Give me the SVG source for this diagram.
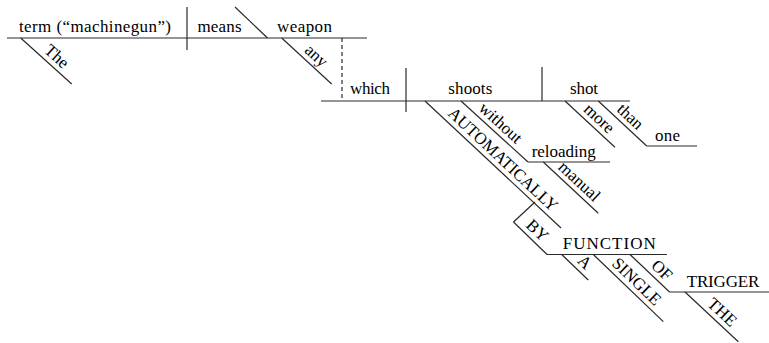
<svg xmlns="http://www.w3.org/2000/svg" width="769" height="343" viewBox="0 0 769 343">
<style>
  .ln{stroke:#2a2a2a;stroke-width:1.2;fill:none}
  .dash{stroke:#2a2a2a;stroke-width:1.2;fill:none;stroke-dasharray:4 3}
</style>
<rect width="769" height="343" fill="#ffffff"/>
<g id="connectors">
  <line class="ln" x1="7" y1="38" x2="367" y2="38"/>
  <line class="ln" x1="187" y1="7" x2="187" y2="50"/>
  <line class="ln" x1="235" y1="7" x2="267.5" y2="38"/>
  <line class="dash" x1="342" y1="38" x2="342" y2="101"/>
  <line class="ln" x1="321" y1="101" x2="630" y2="101"/>
  <line class="ln" x1="406" y1="68" x2="406" y2="112"/>
  <line class="ln" x1="542" y1="67" x2="542" y2="101"/>
  <line class="ln" x1="528" y1="162" x2="610" y2="162"/>
  <line class="ln" x1="646.7" y1="146" x2="697" y2="146"/>
  <line class="ln" x1="535" y1="202" x2="513.5" y2="222"/>
  <line class="ln" x1="547" y1="254.5" x2="667" y2="254.5"/>
  <line class="ln" x1="669.5" y1="292" x2="769" y2="292"/>
</g>
<g id="term"><text x="19" y="32" font-family="serif" font-size="17" textLength="152" lengthAdjust="spacing">term (“machinegun”)</text></g>
<g id="means"><text x="197.5" y="32" font-family="serif" font-size="17" textLength="44" lengthAdjust="spacing">means</text></g>
<g id="weapon"><text x="277" y="32" font-family="serif" font-size="17" textLength="55" lengthAdjust="spacing">weapon</text></g>
<g id="which"><text x="350" y="94" font-family="serif" font-size="17" textLength="40" lengthAdjust="spacing">which</text></g>
<g id="shoots"><text x="448.3" y="94" font-family="serif" font-size="17" textLength="44" lengthAdjust="spacing">shoots</text></g>
<g id="shot"><text x="570" y="94" font-family="serif" font-size="17" textLength="28" lengthAdjust="spacing">shot</text></g>
<g id="reloading"><text x="531.7" y="156.5" font-family="serif" font-size="17" textLength="64" lengthAdjust="spacing">reloading</text></g>
<g id="one"><text x="655" y="141" font-family="serif" font-size="17" textLength="25" lengthAdjust="spacing">one</text></g>
<g id="function"><text x="562.7" y="248.5" font-family="serif" font-size="17" textLength="93" lengthAdjust="spacing">FUNCTION</text></g>
<g id="trigger"><text x="686.7" y="286.5" font-family="serif" font-size="17" textLength="72.6" lengthAdjust="spacing">TRIGGER</text></g>
<g id="the1" transform="translate(20.7,38) rotate(42.05)"><line class="ln" x1="0" y1="0" x2="68.7" y2="0"/><text x="39" y="-5" text-anchor="middle" font-family="serif" font-size="17">The</text></g>
<g id="any" transform="translate(281.7,38) rotate(42.6)"><line class="ln" x1="0" y1="0" x2="67.9" y2="0"/><text x="37.6" y="-5" text-anchor="middle" font-family="serif" font-size="17">any</text></g>
<g id="automatically" transform="translate(425,101) rotate(43.04)"><line class="ln" x1="0" y1="0" x2="186.1" y2="0"/><text x="97" y="-5" text-anchor="middle" font-family="serif" font-size="17">AUTOMATICALLY</text></g>
<g id="without" transform="translate(461,101) rotate(42.3)"><line class="ln" x1="0" y1="0" x2="90.6" y2="0"/><text x="44" y="-5" text-anchor="middle" font-family="serif" font-size="17">without</text></g>
<g id="manual" transform="translate(543.3,162) rotate(43)"><line class="ln" x1="0" y1="0" x2="75.2" y2="0"/><text x="39.6" y="-5" text-anchor="middle" font-family="serif" font-size="17">manual</text></g>
<g id="more" transform="translate(565,101) rotate(42.8)"><line class="ln" x1="0" y1="0" x2="68.1" y2="0"/><text x="37" y="-5" text-anchor="middle" font-family="serif" font-size="17">more</text></g>
<g id="than" transform="translate(598.3,101) rotate(42.9)"><line class="ln" x1="0" y1="0" x2="66.1" y2="0"/><text x="34" y="-5" text-anchor="middle" font-family="serif" font-size="17">than</text></g>
<g id="by" transform="translate(513.5,222) rotate(44.1)"><line class="ln" x1="0" y1="0" x2="46.7" y2="0"/><text x="23" y="-5" text-anchor="middle" font-family="serif" font-size="17">BY</text></g>
<g id="a" transform="translate(561.7,254.5) rotate(43.8)"><line class="ln" x1="0" y1="0" x2="36.8" y2="0"/><text x="22" y="-5" text-anchor="middle" font-family="serif" font-size="17">A</text></g>
<g id="single" transform="translate(593.3,254.5) rotate(43.8)"><line class="ln" x1="0" y1="0" x2="97" y2="0"/><text x="50" y="-5" text-anchor="middle" font-family="serif" font-size="17">SINGLE</text></g>
<g id="of" transform="translate(630,254.5) rotate(43.5)"><line class="ln" x1="0" y1="0" x2="54.5" y2="0"/><text x="34" y="-5" text-anchor="middle" font-family="serif" font-size="17">OF</text></g>
<g id="the2" transform="translate(685,292) rotate(43)"><line class="ln" x1="0" y1="0" x2="72.9" y2="0"/><text x="41" y="-5" text-anchor="middle" font-family="serif" font-size="17">THE</text></g>
</svg>
